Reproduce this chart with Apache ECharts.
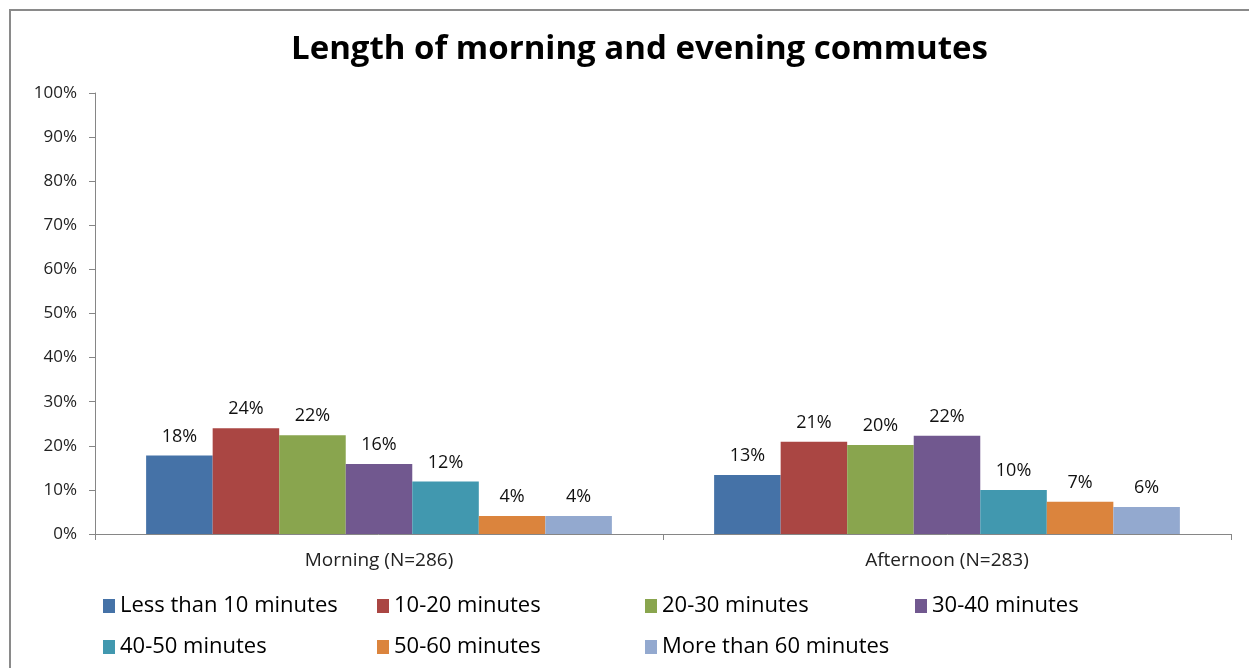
<!DOCTYPE html>
<html>
<head>
<meta charset="utf-8">
<script src="https://cdn.jsdelivr.net/npm/echarts@6/dist/echarts.min.js"></script>
<style>
  html, body { margin: 0; padding: 0; background: #fff; }
  #chart { width: 1249px; height: 668px; }
</style>
</head>
<body>
<div id="chart"></div>
<script>
const categories = ['Morning (N=286)', 'Afternoon (N=283)'];
const seriesNames = [
  'Less than 10 minutes', '10-20 minutes', '20-30 minutes', '30-40 minutes',
  '40-50 minutes', '50-60 minutes', 'More than 60 minutes'
];
// one pair per series: [morning, afternoon]
const lessThan10 = [17.8, 13.4];
const min10to20 = [24.0, 20.9];
const min20to30 = [22.4, 20.2];
const min30to40 = [15.9, 22.3];
const min40to50 = [11.9, 10.0];
const min50to60 = [4.1, 7.3];
const moreThan60 = [4.1, 6.1];
const yTicks = [0, 10, 20, 30, 40, 50, 60, 70, 80, 90, 100];

const seriesValues = [lessThan10, min10to20, min20to30, min30to40, min40to50, min50to60, moreThan60];
const colors = ['#4572A7', '#AA4643', '#89A54E', '#71588F', '#4198AF', '#DB843D', '#93A9CF'];

const font = '"Open Sans", "Noto Sans", sans-serif';

// legend placed item by item, two rows like the original
const legendPos = [
  [98, 590], [372, 590], [640, 590], [910, 590],
  [98, 631], [372, 631], [640, 631],
];

const chart = echarts.init(document.getElementById('chart'));

chart.setOption({
  backgroundColor: '#fff',
  color: colors,
  animation: false,
  title: {
    text: 'Length of morning and evening commutes',
    left: 286,
    top: 28,
    textStyle: { fontFamily: font, fontSize: 33, fontWeight: 'bold', color: '#000' },
  },
  graphic: [{
    type: 'rect',
    shape: { x: 10, y: 10, width: 1300, height: 700 },
    style: { fill: 'none', stroke: '#8a8a8a', lineWidth: 2 },
    silent: true,
  }],
  legend: seriesNames.map((name, i) => ({
    data: [name],
    left: legendPos[i][0],
    top: legendPos[i][1],
    itemWidth: 12,
    itemHeight: 14,
    itemGap: 6,
    icon: 'rect',
    textStyle: { fontFamily: font, fontSize: 22, color: '#000' },
  })),
  grid: { left: 95, right: 18, top: 93, bottom: 134 },
  xAxis: {
    type: 'category',
    data: categories,
    axisLine: { lineStyle: { color: '#868686' } },
    axisTick: { show: true, length: 6, lineStyle: { color: '#868686' } },
    axisLabel: { fontFamily: font, fontSize: 19, color: '#222', margin: 17 },
  },
  yAxis: {
    type: 'value',
    min: yTicks[0],
    max: yTicks[yTicks.length - 1],
    interval: 10,
    axisLine: { show: true, lineStyle: { color: '#868686' } },
    axisTick: { show: true, length: 6, lineStyle: { color: '#868686' } },
    splitLine: { show: false },
    axisLabel: { fontFamily: font, fontSize: 17, color: '#222', margin: 18, formatter: '{value}%' },
  },
  series: seriesNames.map((name, i) => ({
    name,
    type: 'bar',
    data: seriesValues[i],
    barGap: '0%',
    barCategoryGap: '18%',
    label: {
      show: true,
      position: 'top',
      distance: 10,
      fontFamily: font,
      fontSize: 18,
      color: '#111',
      formatter: (p) => Math.round(p.value) + '%',
    },
  })),
});
</script>
</body>
</html>
